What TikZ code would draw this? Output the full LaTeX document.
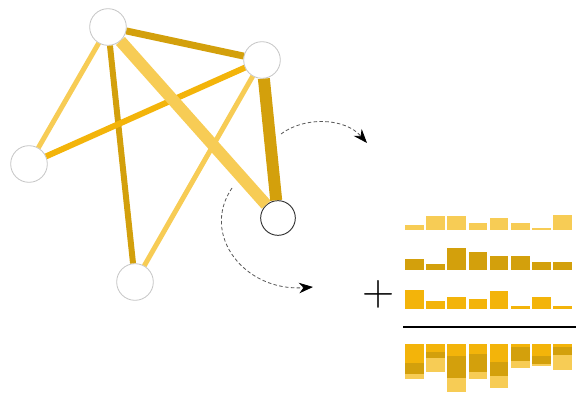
\documentclass[tikz,border=0pt]{standalone}
\usepackage{tikz}
\usetikzlibrary{arrows.meta}
\usepackage{xcolor}

\definecolor{goldlight}{HTML}{F7CC55}
\definecolor{goldmid}{HTML}{F3B40A}
\definecolor{golddark}{HTML}{D3A00C}

\begin{document}
\begin{tikzpicture}[x=0.03cm,y=-0.03cm,
    vertex/.style={circle,draw=gray!45,fill=white,line width=0.7pt,minimum size=1.1cm,inner sep=0pt},
    target/.style={vertex,draw=black!80,minimum size=1.04cm,line width=0.8pt},
    link/.style={line width=#1*0.85pt},
    turn/.style={densely dashed,gray!70!black,line width=0.7pt,-{Stealth[length=12pt,width=9pt,black]}}]
    \useasboundingbox (0,0) rectangle (577,395);

    % Graph nodes
    \node[vertex] (top) at (108,27) {};
    \node[vertex] (right) at (262,60) {};
    \node[vertex] (left) at (29,164) {};
    \node[vertex] (bottom) at (135,282) {};
    \node[target] (focus) at (278,218) {};

    % Weighted edges
    \draw[link=5,goldlight] (top) -- (left);
    \draw[link=5,goldlight] (right) -- (bottom);
    \draw[link=6,golddark] (top) -- (bottom);
    \draw[link=6,goldmid] (right) -- (left);
    \draw[link=7,golddark] (top) -- (right);
    \draw[link=12,goldlight] (top) -- (focus);
    \draw[link=12,golddark] (right) -- (focus);

    % Rotating arrows
    \coordinate (startA) at (281,134);
    \coordinate (endA) at (367,143);
    \coordinate (startB) at (232,188);
    \coordinate (endB) at (313,287);
    \draw[turn] (startA) .. controls (305,116) and (345,118) .. (endA);
    \draw[turn] (startB) .. controls (200,235) and (245,292) .. (endB);

    % Plus sign
    \node (plus) at (379,294) {\fontsize{38}{38}\selectfont +};

    % Bar rows
    \foreach \i/\h in {0/5,1/14,2/14,3/7,4/12,5/7,6/2,7/15}
        \fill[goldlight] (405+\i*21.2,230) rectangle ++(18.5,-\h);
    \foreach \i/\h in {0/11,1/6,2/22,3/18,4/14,5/14,6/8,7/8}
        \fill[golddark] (405+\i*21.2,270) rectangle ++(18.5,-\h);
    \foreach \i/\h in {0/19,1/8,2/12,3/10,4/18,5/3,6/12,7/3}
        \fill[goldmid] (405+\i*21.2,309) rectangle ++(18.5,-\h);

    % Sum line
    \coordinate (sumL) at (403,327);
    \coordinate (sumR) at (576,327);
    \draw[line width=1pt] (sumL) -- (sumR);

    % Stacked sum
    \foreach \i/\a/\b/\c in {0/19/11/5,1/8/6/14,2/12/22/14,3/10/18/7,4/18/14/12,5/3/14/7,6/12/8/2,7/3/8/15} {
        \fill[goldmid] (405+\i*21.2,344) rectangle ++(18.5,\a);
        \fill[golddark] (405+\i*21.2,344+\a) rectangle ++(18.5,\b);
        \fill[goldlight] (405+\i*21.2,344+\a+\b) rectangle ++(18.5,\c);
    }
\end{tikzpicture}
\end{document}
